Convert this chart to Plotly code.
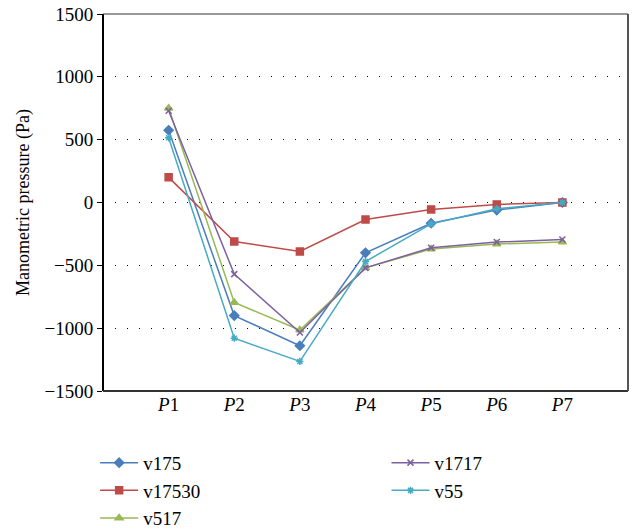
import plotly.graph_objects as go

categories = ["P1", "P2", "P3", "P4", "P5", "P6", "P7"]
cat_labels = ["<i>P</i>1", "<i>P</i>2", "<i>P</i>3", "<i>P</i>4", "<i>P</i>5", "<i>P</i>6", "<i>P</i>7"]

v175 = [575, -900, -1140, -400, -165, -60, 0]
v17530 = [200, -310, -390, -135, -55, -15, 0]
v517 = [750, -795, -1015, -520, -370, -330, -315]
v1717 = [730, -570, -1035, -520, -360, -315, -295]
v55 = [515, -1080, -1265, -470, -170, -50, 0]

series = [
    ("v175", v175, "#4A7EBB", "diamond", 7, "legend"),
    ("v17530", v17530, "#BE4B48", "square", 7, "legend"),
    ("v517", v517, "#98B954", "triangle-up", 7, "legend"),
    ("v1717", v1717, "#7D60A0", "x-thin-open", 6, "legend2"),
    ("v55", v55, "#46AAC5", "asterisk-open", 6, "legend2"),
]

xs = list(range(len(categories)))
fig = go.Figure()
for name, vals, color, sym, size, leg in series:
    fig.add_trace(go.Scatter(
        x=xs, y=vals, name=name, mode="lines+markers",
        line=dict(color=color, width=1.5),
        marker=dict(symbol=sym, size=size, color=color,
                    line=dict(color=color, width=1.5)),
        legend=leg,
    ))

font_family = "Liberation Serif, Times New Roman, serif"
fig.update_layout(
    width=634, height=529,
    margin=dict(l=103, r=6, t=14, b=138, autoexpand=False),
    paper_bgcolor="white", plot_bgcolor="white",
    font=dict(family=font_family, size=18, color="black"),
    xaxis=dict(
        range=[-1, 7], tickmode="array", tickvals=xs, ticktext=cat_labels,
        showgrid=False, zeroline=False, showline=False, ticks="",
        tickfont=dict(size=19), automargin=False,
    ),
    yaxis=dict(
        range=[-1500, 1500], tickmode="array",
        tickvals=[-1500, -1000, -500, 0, 500, 1000, 1500],
        ticktext=["−1500", "−1000", "−500", "0", "500", "1000", "1500"],
        showgrid=True, gridcolor="black", gridwidth=1, griddash="1px,11px",
        zeroline=False, showline=False, ticks="outside", ticklen=5,
        tickcolor="black", tickfont=dict(size=19), automargin=False,
        title=dict(text="Manometric pressure (Pa)", font=dict(size=18), standoff=10),
    ),
    legend=dict(x=-0.015, y=-0.14, xanchor="left", yanchor="top",
                font=dict(size=19), bgcolor="rgba(0,0,0,0)", itemwidth=38),
    legend2=dict(x=0.54, y=-0.14, xanchor="left", yanchor="top",
                 font=dict(size=19), bgcolor="rgba(0,0,0,0)", itemwidth=38),
    showlegend=True,
)

# frame
fig.add_shape(type="line", xref="paper", yref="paper", x0=0, x1=0, y0=0, y1=1,
              line=dict(color="black", width=2))
fig.add_shape(type="line", xref="paper", yref="paper", x0=0, x1=1, y0=0, y1=0,
              line=dict(color="#333333", width=2))
fig.add_shape(type="line", xref="paper", yref="paper", x0=0, x1=1, y0=1, y1=1,
              line=dict(color="#333333", width=1))
fig.add_shape(type="line", xref="paper", yref="paper", x0=1, x1=1, y0=0, y1=1,
              line=dict(color="#555555", width=2))

fig.write_html("out.html", config={"displayModeBar": False},
               post_script="document.body.style.margin='0px';")
